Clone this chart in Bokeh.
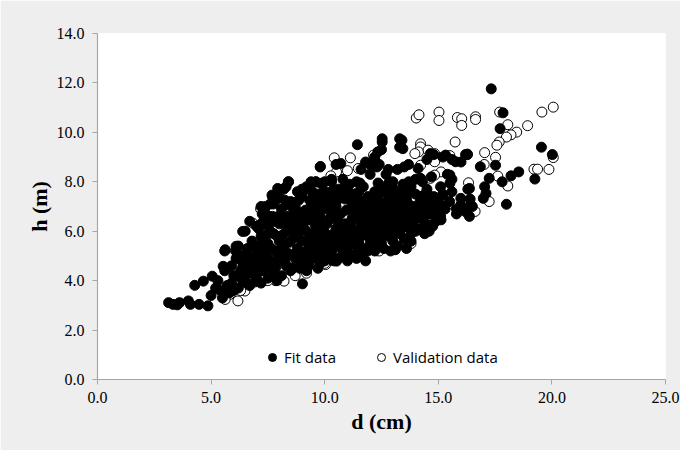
from bokeh.plotting import figure
from bokeh.models import (Range1d, FixedTicker, PrintfTickFormatter, Legend, LegendItem,
                          ColumnDataSource, BoxAnnotation)
from bokeh.embed import file_html
from bokeh.resources import INLINE

x_ticks = [0, 5, 10, 15, 20, 25]
y_ticks = [0, 2, 4, 6, 8, 10, 12, 14]

# Fit data (d in cm, h in m)
fit_points = [
    (3.13, 3.11), (3.32, 3.04), (3.51, 3.02), (3.61, 3.11), (4.0, 3.18), (4.09, 3.04),
    (4.47, 3.04), (4.86, 2.98), (4.28, 3.81), (4.66, 3.98), (5.05, 4.18), (5.53, 4.58),
    (5.0, 3.4), (5.2, 3.7), (5.3, 4.0), (5.5, 3.3), (5.4, 3.6), (5.6, 4.4), (5.7, 3.8),
    (5.6, 5.2), (5.62, 5.25), (6.1, 5.39), (6.39, 5.99), (7.16, 6.26), (7.45, 6.66),
    (7.74, 7.1), (7.68, 7.46), (7.93, 7.73), (8.41, 8.0), (9.62, 8.0), (9.85, 7.94),
    (9.81, 8.62), (10.71, 8.74), (11.44, 9.5), (12.19, 8.94), (12.34, 9.21), (12.53, 9.61),
    (12.53, 9.74), (13.3, 9.74), (13.4, 9.68), (13.44, 9.34), (13.69, 8.7), (14.22, 8.14),
    (14.11, 8.54), (14.65, 9.14), (14.55, 7.46), (14.36, 5.99), (14.65, 6.26), (15.12, 6.46),
    (15.12, 7.06), (15.18, 7.46), (15.32, 9.08), (15.51, 7.94), (15.51, 8.27), (15.76, 8.81),
    (16.28, 9.1), (15.99, 7.06), (15.99, 7.33), (16.18, 6.9), (16.37, 6.6), (16.43, 7.06),
    (16.37, 7.73), (16.98, 7.33), (17.1, 7.53), (17.04, 7.8), (17.24, 8.14), (16.85, 8.61),
    (17.52, 8.67), (17.81, 8.0), (18.2, 8.24), (18.0, 7.09), (18.54, 8.4), (19.25, 8.11),
    (20.02, 9.1), (19.54, 9.4), (17.72, 10.15), (17.85, 10.79), (17.33, 11.76),
    (13.11, 5.25), (12.34, 5.52), (9.02, 3.87), (10.52, 4.79), (11.0, 4.92),
    (5.8, 3.5), (5.9, 3.9), (6.0, 4.2), (5.9, 4.6), (6.1, 4.9), (6.2, 3.7), (6.3, 4.4),
    (6.4, 4.0), (6.3, 5.0), (6.5, 4.7), (6.5, 6.0), (6.6, 3.9), (6.7, 4.3), (6.6, 5.3),
    (6.8, 4.9), (6.9, 4.5), (6.8, 5.6), (7.0, 4.1), (7.0, 5.2), (7.1, 6.1), (7.1, 4.7),
    (7.2, 5.8), (7.2, 3.9), (7.3, 6.4), (7.3, 4.4), (7.4, 5.0), (7.5, 5.5), (7.5, 4.1),
    (7.6, 6.0), (7.6, 7.1), (7.7, 4.7), (7.7, 6.6), (7.8, 5.2), (7.8, 4.3), (7.9, 5.8),
    (7.9, 7.5), (8.0, 6.3), (8.0, 4.9), (8.1, 4.2), (8.1, 6.9), (8.2, 5.4), (8.2, 7.7),
    (8.3, 4.6), (8.3, 6.0), (8.4, 6.6), (8.4, 5.1), (8.5, 7.2), (8.5, 4.4), (8.6, 5.7),
    (8.6, 6.3), (8.7, 4.9), (8.7, 7.0), (8.8, 5.3), (8.8, 6.8), (8.9, 4.5), (8.9, 6.0),
    (9.0, 5.6), (9.0, 7.4), (9.1, 4.8), (9.1, 6.4), (9.2, 5.2), (9.2, 7.8), (9.3, 5.9),
    (9.3, 4.6), (9.4, 6.7), (9.4, 5.4), (9.5, 7.1), (9.5, 4.9), (9.6, 6.2), (9.6, 5.7),
    (9.7, 4.5), (9.7, 7.5), (9.8, 5.1), (9.8, 6.6), (9.9, 6.0), (9.9, 7.9), (10.0, 5.4),
    (10.0, 4.8), (10.1, 6.9), (10.1, 6.3), (10.2, 5.8), (10.2, 7.4), (10.3, 5.0), (10.3, 8.0),
    (10.4, 6.5), (10.4, 5.5), (10.5, 7.0), (10.5, 6.1), (10.6, 4.9), (10.6, 7.7), (10.7, 5.7),
    (10.7, 6.7), (10.8, 5.2), (10.8, 8.1), (10.9, 6.3), (10.9, 7.3), (11.0, 5.9), (11.0, 5.0),
    (11.1, 6.9), (11.1, 7.9), (11.2, 5.5), (11.2, 6.5), (11.3, 7.5), (11.3, 6.0), (11.4, 5.1),
    (11.4, 8.0), (11.5, 6.7), (11.5, 5.6), (11.6, 7.2), (11.6, 6.2), (11.7, 5.3), (11.7, 7.8),
    (11.8, 6.8), (11.8, 5.9), (11.9, 7.4), (11.9, 6.4), (12.0, 5.5), (12.0, 8.3), (12.1, 7.0),
    (12.1, 6.0), (12.2, 6.6), (12.2, 7.6), (12.3, 5.7), (12.3, 8.6), (12.4, 6.3), (12.4, 7.2),
    (12.5, 6.9), (12.5, 5.5), (12.6, 7.8), (12.6, 6.1), (12.7, 6.6), (12.7, 8.3), (12.8, 7.3),
    (12.8, 5.8), (12.9, 6.4), (12.9, 7.0), (13.0, 6.8), (13.0, 5.6), (13.1, 7.5), (13.1, 6.1),
    (13.2, 6.6), (13.2, 8.5), (13.3, 7.1), (13.3, 5.9), (13.4, 6.4), (13.4, 7.6), (13.5, 6.9),
    (13.5, 5.7), (13.6, 7.3), (13.6, 6.2), (13.7, 6.7), (13.8, 7.8), (13.8, 5.9), (13.9, 7.0),
    (13.9, 6.4), (14.0, 6.8), (14.0, 7.5), (14.1, 6.1), (14.2, 7.2), (14.3, 6.6), (14.3, 8.0),
    (14.4, 6.3), (14.5, 7.0), (14.5, 7.7), (14.6, 6.0), (14.7, 6.7), (14.8, 7.4), (14.9, 6.4),
    (15.0, 7.0), (15.1, 6.6), (15.2, 7.5), (15.3, 6.9), (15.5, 7.2), (15.6, 8.1), (15.8, 6.9),
    (15.4, 8.3),
    (6.0, 3.6), (6.4, 4.6), (6.7, 3.8), (7.0, 4.6), (7.3, 5.3), (7.6, 4.5), (7.9, 4.0),
    (8.0, 5.6), (8.3, 5.0), (8.6, 4.5), (8.9, 5.1), (9.2, 4.4), (9.5, 5.3), (9.8, 4.7),
    (10.1, 5.2), (10.4, 4.8), (10.7, 5.4), (11.0, 5.3), (11.3, 5.6), (11.6, 5.0), (11.9, 5.2),
    (9.0, 6.5), (9.3, 6.9), (9.6, 7.2), (10.0, 7.6), (10.3, 7.1), (10.6, 7.4), (10.9, 7.8),
    (11.2, 7.2), (11.5, 7.6), (12.0, 6.8), (12.3, 6.6), (12.6, 7.0), (13.0, 7.2), (13.5, 6.6),
    (14.0, 6.0), (14.6, 6.9),
    (7.7, 7.4), (7.9, 7.3), (8.0, 7.6), (8.3, 7.8), (8.4, 8.0), (8.8, 7.6), (9.0, 7.7),
    (9.2, 7.7), (9.4, 8.0), (9.6, 8.0), (9.8, 8.6), (10.0, 8.0), (10.3, 8.1), (10.5, 8.7),
    (7.2, 7.0), (7.4, 7.0), (6.7, 6.4), (7.0, 6.2), (5.7, 4.5), (6.1, 5.2), (6.2, 5.4),
    (11.6, 8.5), (11.8, 8.8), (12.0, 8.7), (12.2, 9.0), (12.4, 8.7), (12.5, 9.3), (12.8, 8.5),
    (13.0, 8.0), (13.3, 9.4), (13.5, 8.6), (13.7, 8.0), (14.0, 8.1), (14.5, 8.9), (14.8, 9.1),
    (15.2, 9.0), (15.6, 8.9), (16.0, 8.8), (16.2, 9.1), (16.3, 7.7), (16.5, 7.0), (16.4, 7.3),
    (16.2, 6.8), (15.8, 6.7), (15.6, 7.6), (15.1, 7.8), (14.7, 8.2), (14.4, 5.9), (13.8, 5.6),
    (13.6, 5.3), (13.2, 5.4), (12.9, 5.2), (12.6, 5.3), (12.2, 5.2), (11.8, 4.8), (11.4, 4.9),
    (11.0, 4.8),
    (6.25, 4.15), (6.45, 4.35), (6.55, 5.1), (6.75, 4.65), (6.95, 3.95), (6.9, 5.4),
    (6.6, 4.55), (6.35, 4.8), (7.05, 4.35), (7.15, 5.0), (7.25, 5.55), (7.35, 4.75),
    (7.45, 5.85), (7.55, 4.85), (7.65, 5.3), (7.75, 5.9), (7.85, 4.55), (7.95, 6.6),
    (7.45, 6.25), (7.65, 6.35), (7.25, 6.7), (7.95, 5.05), (8.05, 5.25), (8.15, 5.85),
    (8.25, 4.75), (8.35, 6.35), (8.45, 5.55), (8.55, 6.05), (8.65, 5.05), (8.75, 6.55),
    (8.85, 5.75), (8.95, 4.75), (8.15, 6.55), (8.45, 7.05), (8.65, 6.85), (8.95, 6.25),
    (8.25, 7.25), (8.85, 7.25), (9.05, 5.15), (9.15, 6.05), (9.25, 5.55), (9.35, 6.45),
    (9.45, 5.05), (9.55, 5.95), (9.65, 6.75), (9.75, 5.35), (9.85, 6.35), (9.95, 5.65),
    (9.15, 6.85), (9.35, 7.25), (9.55, 6.45), (9.75, 6.95), (9.95, 7.25), (9.45, 7.6),
    (9.25, 4.9), (10.05, 5.9), (10.15, 5.5), (10.25, 6.55), (10.35, 5.25), (10.45, 6.85),
    (10.55, 5.65), (10.65, 6.35), (10.75, 6.05), (10.85, 5.55), (10.95, 6.85), (10.15, 7.15),
    (10.35, 7.65), (10.55, 7.25), (10.75, 7.55), (10.95, 5.2), (10.45, 5.95), (11.05, 5.6),
    (11.15, 6.25), (11.25, 5.85), (11.35, 6.65), (11.45, 5.35), (11.55, 6.45), (11.65, 5.85),
    (11.75, 6.55), (11.85, 6.15), (11.95, 5.75), (11.25, 7.0), (11.45, 7.35), (11.65, 6.95),
    (11.85, 7.15), (11.1, 7.55), (11.55, 7.95), (12.05, 5.85), (12.15, 6.35), (12.25, 6.0),
    (12.35, 6.95), (12.45, 5.85), (12.55, 6.55), (12.65, 6.85), (12.75, 6.2), (12.85, 6.75),
    (12.95, 5.95), (12.15, 7.35), (12.45, 7.55), (12.75, 7.65), (12.95, 7.35), (12.35, 7.95),
    (12.85, 8.0), (13.05, 6.35), (13.15, 6.85), (13.25, 6.35), (13.35, 6.65), (13.45, 6.15),
    (13.55, 7.15), (13.65, 6.45), (13.75, 7.05), (13.85, 6.65), (13.95, 6.15), (13.25, 7.35),
    (13.65, 7.6), (13.05, 7.7), (13.45, 7.9), (14.15, 6.55), (14.25, 6.95), (14.45, 6.65),
    (14.65, 7.25), (14.85, 6.85), (14.35, 7.45), (14.75, 6.2), (14.95, 7.15),
]

# Validation data (d in cm, h in m)
val_points = [
    (14.03, 10.58), (14.15, 10.71), (15.03, 10.82), (15.03, 10.48), (15.84, 10.6),
    (16.03, 10.55), (16.03, 10.28), (16.64, 10.63), (16.64, 10.52), (17.7, 10.82),
    (18.06, 10.31), (18.93, 10.27), (20.06, 11.02), (19.56, 10.82), (18.45, 10.01),
    (18.2, 9.9), (18.0, 9.81), (17.68, 9.61), (17.58, 9.48), (15.74, 9.61), (17.04, 9.18),
    (17.52, 8.99), (17.02, 8.7), (17.24, 7.2), (18.06, 7.83), (19.21, 8.51), (19.37, 8.51),
    (19.87, 8.5), (20.06, 8.98), (17.62, 8.23), (16.62, 6.8), (15.45, 7.1), (16.33, 7.96),
    (15.51, 9.06), (14.84, 8.81), (15.12, 8.4), (14.84, 8.27), (14.65, 8.14), (14.22, 9.54),
    (14.22, 9.41), (14.13, 9.21), (13.97, 9.14), (14.55, 9.28), (14.84, 9.14), (16.28, 9.12),
    (14.22, 8.67), (13.65, 5.5), (12.3, 5.21), (12.42, 5.32), (12.15, 9.08), (11.96, 8.61),
    (11.67, 8.58), (11.48, 8.54), (11.13, 8.97), (11.0, 8.45), (10.42, 8.97), (10.52, 8.4),
    (10.27, 8.24), (9.6, 7.6), (9.88, 7.2), (9.04, 7.0), (10.13, 4.81), (10.04, 4.65),
    (8.21, 3.98), (7.83, 4.0), (7.35, 4.05), (6.49, 3.58), (6.18, 3.18), (6.07, 5.21),
    (7.18, 6.9), (7.16, 5.39), (6.83, 6.33), (8.5, 4.52), (5.82, 3.44), (5.62, 3.24),
    (9.08, 5.46), (9.46, 6.7), (11.17, 5.25), (11.67, 5.99), (12.92, 6.93), (13.3, 6.53),
    (16.18, 6.8), (8.4, 4.5), (9.2, 4.3), (10.0, 4.7), (11.2, 5.0), (12.4, 5.2), (13.8, 5.5),
    (7.5, 4.0), (6.8, 4.0), (6.3, 3.6), (8.7, 4.2),
]

fit_src = ColumnDataSource(dict(d=[pt[0] for pt in fit_points], h=[pt[1] for pt in fit_points]))
val_src = ColumnDataSource(dict(d=[pt[0] for pt in val_points], h=[pt[1] for pt in val_points]))

p = figure(width=680, height=450, x_range=Range1d(0, 25), y_range=Range1d(0, 14),
           output_backend="svg", toolbar_location=None,
           min_border_left=97, min_border_right=15, min_border_top=33, min_border_bottom=71)
p.xgrid.visible = False
p.ygrid.visible = False
p.outline_line_color = None
p.background_fill_color = "white"
p.border_fill_color = "#eeeeee"

panel = BoxAnnotation(left=22, right=680, top=18, bottom=437,
                      left_units="canvas", right_units="canvas",
                      top_units="canvas", bottom_units="canvas",
                      fill_color="white", fill_alpha=1.0, line_color=None, level="underlay")
p.add_layout(panel)

for ax in (p.xaxis[0], p.yaxis[0]):
    ax.axis_line_color = "#a6a6a6"
    ax.axis_line_width = 1.2
    ax.major_tick_line_color = "#a6a6a6"
    ax.minor_tick_line_color = None
    ax.major_tick_out = 5
    ax.major_tick_in = 0
    ax.major_label_text_font = "Liberation Serif"
    ax.major_label_text_font_size = "16px"
    ax.major_label_text_color = "black"
    ax.axis_label_text_font = "Liberation Serif"
    ax.axis_label_text_font_style = "bold"
    ax.axis_label_text_font_size = "22px"
    ax.axis_label_text_color = "black"
    ax.formatter = PrintfTickFormatter(format="%.1f")

p.xaxis.ticker = FixedTicker(ticks=x_ticks)
p.yaxis.ticker = FixedTicker(ticks=y_ticks)
p.xaxis.axis_label = "d (cm)"
p.yaxis.axis_label = "h (m)"
p.xaxis.major_label_standoff = 7
p.yaxis.major_label_standoff = 8
p.xaxis.axis_label_standoff = 3
p.yaxis.axis_label_standoff = 2

r_val = p.scatter("d", "h", source=val_src, marker="circle", size=10,
                  fill_color="white", line_color="black", line_width=1)
r_fit = p.scatter("d", "h", source=fit_src, marker="circle", size=10,
                  fill_color="black", line_color="black", line_width=1)

legend = Legend(items=[LegendItem(label="Fit data", renderers=[r_fit]),
                       LegendItem(label="Validation data", renderers=[r_val])],
                orientation="horizontal", location=(165, 12),
                glyph_width=20, glyph_height=20, label_standoff=2, spacing=35,
                padding=0, margin=0, border_line_color=None, background_fill_alpha=0,
                label_text_font="Open Sans", label_text_font_size="15px",
                label_text_color="black")
p.add_layout(legend, "center")

open("out.html", "w").write(file_html(p, INLINE))
